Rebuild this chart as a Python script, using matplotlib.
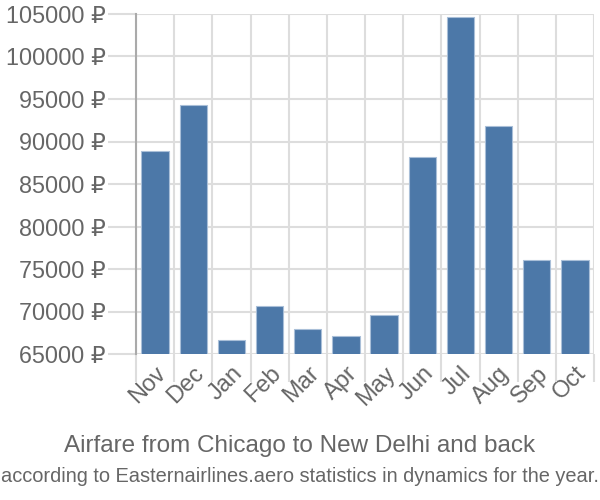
import matplotlib.pyplot as plt
import numpy as np

plt.rcParams['font.family'] = ['Liberation Sans', 'DejaVu Sans']

months = ["Nov", "Dec", "Jan", "Feb", "Mar", "Apr", "May", "Jun", "Jul", "Aug", "Sep", "Oct"]
prices = [88900, 94350, 66600, 70700, 67950, 67100, 69550, 88200, 104600, 91800, 76100, 76100]
yticks = [65000, 70000, 75000, 80000, 85000, 90000, 95000, 100000, 105000]

text_color = "#666666"
grid_color = "#dddddd"

fig = plt.figure(figsize=(6, 5), dpi=100)
ax = fig.add_axes([136 / 600, 1 - 354 / 500, (594 - 136) / 600, (354 - 14) / 500])

x = np.arange(len(months))
ax.bar(x, prices, width=0.72, color="#4c78a8", edgecolor="#a9bfd8", linewidth=0.8,
       zorder=3)

ax.set_xlim(-0.5, len(months) - 0.5)
ax.set_ylim(65000, 105000)

ax.set_yticks(yticks)
ax.set_yticklabels([f"{v} ₽" for v in yticks], fontsize=16.8, color=text_color)
ax.tick_params(axis="y", length=20, width=1.5, color=grid_color, pad=2)

ax.set_xticks(x)
ax.set_xticklabels(months, fontsize=17, color=text_color, rotation=45,
                   ha="right", rotation_mode="anchor")
ax.tick_params(axis="x", length=0, pad=6)
ax.set_xticks(np.arange(len(months) + 1) - 0.5, minor=True)
ax.tick_params(axis="x", which="minor", length=20, width=1.5, color=grid_color)

ax.grid(axis="y", color=grid_color, linewidth=1.5, zorder=0)
ax.grid(axis="x", which="minor", color=grid_color, linewidth=1.5, zorder=0)

for side in ["top", "right", "bottom"]:
    ax.spines[side].set_visible(False)
ax.spines["left"].set_color("#aaaaaa")
ax.spines["left"].set_linewidth(1.5)

fig.text(0.5, 1 - 446 / 500, "Airfare from Chicago to New Delhi and back",
         ha="center", va="center", fontsize=17.5, color=text_color)
fig.text(0.5, 1 - 476 / 500,
         "according to Easternairlines.aero statistics in dynamics for the year.",
         ha="center", va="center", fontsize=14.4, color=text_color)

fig.savefig("out.png", dpi=100)
